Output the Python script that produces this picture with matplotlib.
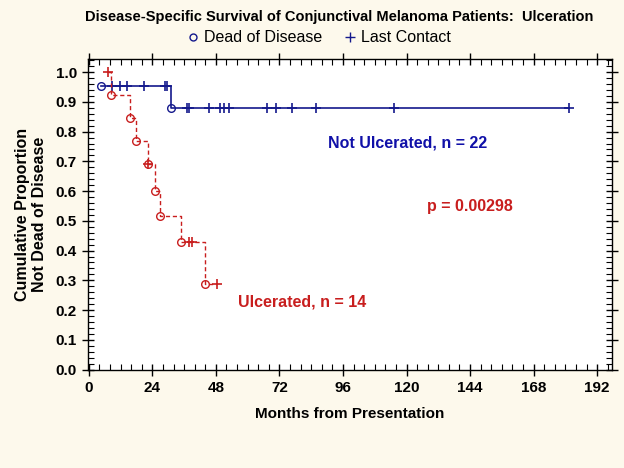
import matplotlib
matplotlib.use('Agg')
import matplotlib.pyplot as plt
from matplotlib.lines import Line2D
from matplotlib.ticker import MultipleLocator

plt.rcParams['font.family'] = ['Liberation Sans', 'DejaVu Sans']

# values (months, cumulative proportion)
ulc_step_months = [7.2, 8.4, 15.5, 17.8, 22.2, 24.9, 26.8, 34.7, 43.7, 48.6]
ulc_step_surv = [1.0, 0.923, 0.846, 0.769, 0.692, 0.600, 0.517, 0.429, 0.286, 0.286]
ulc_dead_months = [8.4, 15.5, 17.8, 22.2, 24.9, 26.8, 34.7, 43.7]
ulc_dead_surv = [0.923, 0.846, 0.769, 0.692, 0.600, 0.517, 0.429, 0.286]
ulc_cens_months = [7.2, 22.2, 37.9, 38.8, 48.6]
ulc_cens_surv = [1.0, 0.692, 0.429, 0.429, 0.286]

not_step_months = [4.5, 31.0, 181.2]
not_step_surv = [0.955, 0.881, 0.881]
not_dead_months = [4.5, 31.0]
not_dead_surv = [0.955, 0.881]
not_cens_months = [8.8, 11.8, 14.4, 20.8, 28.9, 29.4,
                   37.1, 37.9, 45.5, 49.6, 51.1, 52.8, 67.2, 70.6, 76.9, 85.8, 115.2, 181.2]
not_cens_surv = [0.955] * 6 + [0.881] * 12

x_ticks = [0, 24, 48, 72, 96, 120, 144, 168, 192]
y_ticks = [0.0, 0.1, 0.2, 0.3, 0.4, 0.5, 0.6, 0.7, 0.8, 0.9, 1.0]

blue = '#14198c'
red = '#c81e1e'
bg = '#fdf9ec'

fig = plt.figure(figsize=(6.24, 4.68), dpi=100, facecolor=bg)
ax = fig.add_axes([88 / 624, 1 - 369.5 / 468, (612 - 88) / 624, (369.5 - 58.5) / 468])
ax.set_facecolor('white')

# not ulcerated (solid blue)
ax.step(not_step_months, not_step_surv, where='post', color=blue, lw=1.2)
ax.plot(not_dead_months, not_dead_surv, 'o', ms=5.5, mfc='none', mec=blue, mew=1.0)
ax.plot(not_cens_months, not_cens_surv, '+', ms=6.5, mec=blue, mew=1.2)

# ulcerated (dashed red)
ax.step(ulc_step_months, ulc_step_surv, where='post', color=red, lw=1.0, ls=(0, (3, 2)))
ax.plot(ulc_dead_months, ulc_dead_surv, 'o', ms=5.5, mfc='none', mec=red, mew=1.0)
ax.plot(ulc_cens_months, ulc_cens_surv, '+', ms=6.5, mec=red, mew=1.2)

ax.set_xlim(-0.3, 197.6)
ax.set_ylim(0, 1.046)
ax.set_xticks(x_ticks)
ax.set_yticks(y_ticks)
ax.set_yticklabels(['%.1f' % v for v in y_ticks])
ax.xaxis.set_minor_locator(MultipleLocator(4))
ax.yaxis.set_minor_locator(MultipleLocator(0.02))
ax.tick_params(which='major', direction='inout', length=9, width=1, top=True, right=True,
               labelsize=11)
ax.tick_params(which='minor', direction='in', length=4, width=0.8, top=True, right=True)
for lab in ax.get_xticklabels() + ax.get_yticklabels():
    lab.set_fontweight('bold')
for sp in ax.spines.values():
    sp.set_linewidth(1.0)

ax.set_xlabel('Months from Presentation', fontsize=11, fontweight='bold', labelpad=9)
ax.set_ylabel('Cumulative Proportion\nNot Dead of Disease', fontsize=11.5, fontweight='bold',
              labelpad=6)

ax.text(120.5, 0.763, 'Not Ulcerated, n = 22', color='#1010a8', fontsize=11.5,
        fontweight='bold', ha='center', va='center')
ax.text(144, 0.547, 'p = 0.00298', color=red, fontsize=11.5, fontweight='bold',
        ha='center', va='center')
ax.text(56.5, 0.228, 'Ulcerated, n = 14', color=red, fontsize=11.5, fontweight='bold',
        ha='left', va='center')

fig.text(339 / 624, 1 - 17 / 468, 'Disease-Specific Survival of Conjunctival Melanoma Patients:  Ulceration',
         ha='center', va='center', fontsize=10.5, fontweight='bold')

handles = [Line2D([], [], ls='none', marker='o', ms=5, mfc='none', mec=blue),
           Line2D([], [], ls='none', marker='+', ms=7, mec=blue)]
fig.legend(handles, ['Dead of Disease', 'Last Contact'], loc='center',
           bbox_to_anchor=(318 / 624, 1 - 38 / 468), ncol=2, frameon=False, fontsize=11.5,
           handletextpad=0.2, columnspacing=1.2, handlelength=1.0)

fig.savefig('out.png', dpi=100, facecolor=bg)
